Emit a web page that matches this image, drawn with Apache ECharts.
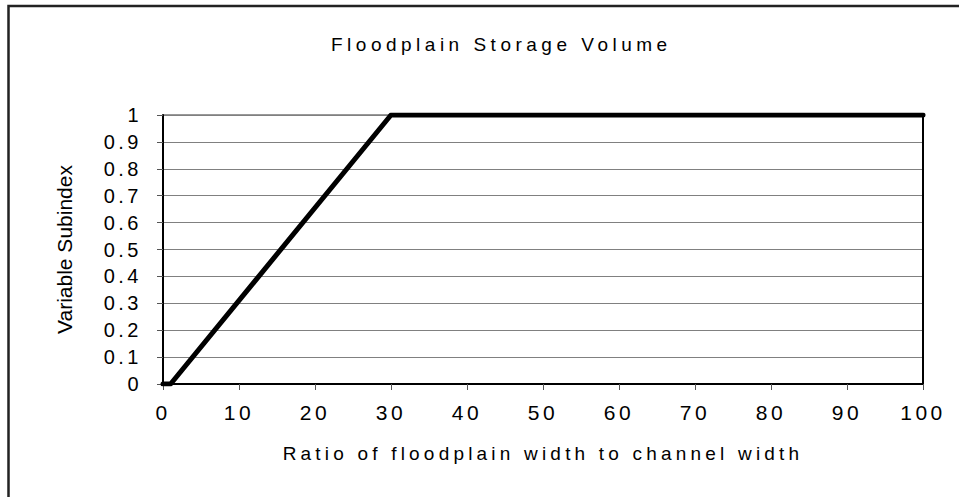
<!DOCTYPE html>
<html>
<head>
<meta charset="utf-8">
<script src="https://cdn.jsdelivr.net/npm/echarts@6/dist/echarts.min.js"></script>
<style>
  html, body { margin: 0; padding: 0; background: #fff; }
  #chart { width: 959px; height: 497px; }
  #chart text { letter-spacing: 3.5px; }
</style>
</head>
<body>
<div id="chart"></div>
<script>
const titleText = 'Floodplain Storage Volume';
const xAxisName = 'Ratio of floodplain width to channel width';
const yAxisName = 'Variable Subindex';
const ratioValues = [0, 1, 30, 100];
const subindexValues = [0, 0, 1, 1];
const xMin = 0, xMax = 100, xStep = 10;
const yMin = 0, yMax = 1, yStep = 0.1;

const FONT = 'Liberation Sans, Arial, sans-serif';
const chart = echarts.init(document.getElementById('chart'), null, { renderer: 'svg' });

function applySpacing() {
  document.querySelectorAll('#chart text').forEach(t => {
    const s = t.textContent;
    if (s === yAxisName) t.style.letterSpacing = '0px';
    else if (s === titleText) t.style.letterSpacing = '4.5px';
    else if (s === xAxisName) t.style.letterSpacing = '4.2px';
  });
}
chart.on('finished', applySpacing);

chart.setOption({
  animation: false,
  backgroundColor: '#fff',
  title: {
    text: titleText,
    left: 326,
    top: 30,
    textStyle: { fontFamily: FONT, fontSize: 19, fontWeight: 'normal', color: '#000' }
  },
  graphic: [{
    type: 'rect',
    shape: { x: 8.5, y: 6, width: 1100, height: 1100 },
    style: { fill: 'none', stroke: '#222', lineWidth: 2.5 },
    silent: true
  }],
  grid: {
    left: 163, right: 36, top: 115, bottom: 113,
    show: true, borderColor: '#333', borderWidth: 1
  },
  xAxis: {
    type: 'value',
    min: xMin, max: xMax, interval: xStep,
    name: xAxisName,
    nameLocation: 'middle',
    nameGap: 60,
    nameTextStyle: { fontFamily: FONT, fontSize: 19, color: '#000' },
    axisLine: { show: true, onZero: false, lineStyle: { color: '#000', width: 2 } },
    axisTick: { show: true, length: 6, lineStyle: { color: '#555', width: 1 } },
    axisLabel: { fontFamily: FONT, fontSize: 21, color: '#000', margin: 18 },
    splitLine: { show: false }
  },
  yAxis: [{
    type: 'value',
    min: yMin, max: yMax, interval: yStep,
    name: yAxisName,
    nameLocation: 'middle',
    nameGap: 88,
    nameTextStyle: { fontFamily: FONT, fontSize: 21, color: '#000' },
    axisLine: { show: true, lineStyle: { color: '#000', width: 2 } },
    axisTick: { show: true, length: 6, lineStyle: { color: '#555', width: 1 } },
    axisLabel: { fontFamily: FONT, fontSize: 20, color: '#000', margin: 21 },
    splitLine: { show: true, lineStyle: { color: '#808080', width: 1 } }
  }, {
    type: 'value',
    position: 'right',
    min: yMin, max: yMax, interval: yStep,
    axisLine: { show: true, lineStyle: { color: '#000', width: 2 } },
    axisTick: { show: false },
    axisLabel: { show: false },
    splitLine: { show: false }
  }],
  series: [{
    type: 'line',
    data: ratioValues.map((x, i) => [x, subindexValues[i]]),
    showSymbol: false,
    symbol: 'none',
    lineStyle: { color: '#000', width: 5, cap: 'round', join: 'round' },
    z: 5
  }]
});
applySpacing();
setTimeout(applySpacing, 50);
</script>
</body>
</html>
